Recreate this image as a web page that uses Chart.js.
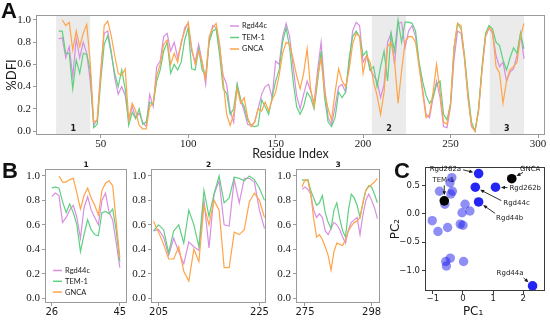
<!DOCTYPE html>
<html>
<head>
<meta charset="utf-8">
<title>DFI profiles and PCA</title>
<script src="https://cdn.jsdelivr.net/npm/chart.js@4.4.1/dist/chart.umd.min.js"></script>
<style>
  html, body { margin: 0; padding: 0; background: #fff; }
  #figure { position: relative; width: 550px; height: 326px; overflow: hidden; }
  #figure canvas { position: absolute; }
  .tag { position: absolute; font: bold 22px/22px "Liberation Sans", Arial, sans-serif; color: #111; }
</style>
</head>
<body>
<div id="figure">
  <canvas id="dfiA" width="550" height="162" style="left:0;top:0"></canvas>
  <canvas id="dfiB1" width="130" height="166" style="left:0;top:160px"></canvas>
  <canvas id="dfiB2" width="140" height="166" style="left:130px;top:160px"></canvas>
  <canvas id="dfiB3" width="114" height="166" style="left:270px;top:160px"></canvas>
  <canvas id="pca" width="165" height="166" style="left:385px;top:160px"></canvas>
  <div class="tag" style="left:1px;top:0">A</div>
  <div class="tag" style="left:2px;top:160px">B</div>
  <div class="tag" style="left:394px;top:160px">C</div>
</div>
<script>
(function () {
  // panel A: every second residue, from 26
  const residueStart = 26;
  const residueStep = 2;
  const dfiRgd44c = [
    0.83, 0.84, 0.66, 0.76, 0.49, 0.83, 0.66, 0.80, 0.70, 0.45,
    0.05, 0.10, 0.55, 0.88, 0.90, 0.72, 0.48, 0.33, 0.40, 0.32,
    0.10, 0.22, 0.12, 0.16, 0.08, 0.04, 0.33, 0.22, 0.58, 0.63,
    0.85, 0.88, 0.72, 0.80, 0.66, 0.78, 0.93, 0.97, 0.72, 0.62,
    0.78, 0.62, 0.42, 0.82, 0.95, 0.93, 0.75, 0.50, 0.42, 0.18,
    0.08, 0.42, 0.28, 0.18, 0.06, 0.05, 0.08, 0.20, 0.33, 0.40,
    0.42, 0.30, 0.63, 0.60, 0.85, 0.97, 0.85, 0.58, 0.32, 0.20,
    0.33, 0.45, 0.36, 0.25, 0.55, 0.80, 0.40, 0.12, 0.06, 0.22,
    0.40, 0.42, 0.35, 0.60, 0.90, 0.98, 0.95, 0.62, 0.68, 0.55,
    0.50, 0.45, 0.30, 0.42, 0.80, 0.88, 0.60, 0.97, 0.98, 0.75,
    0.90, 0.95, 0.85, 0.60, 0.38, 0.15, 0.12, 0.30, 0.45, 0.30,
    0.04, 0.03, 0.22, 0.65, 0.90, 0.88, 0.65, 0.30, 0.04, 0.00,
    0.18, 0.55, 0.85, 0.93, 0.88, 0.68, 0.58, 0.62, 0.45, 0.53,
    0.56, 0.68, 0.88, 0.65
  ];
  const dfiTem1 = [
    0.90, 0.90, 0.70, 0.70, 0.38, 0.64, 0.52, 0.70, 0.69, 0.55,
    0.03, 0.06, 0.45, 0.78, 0.86, 0.70, 0.52, 0.40, 0.55, 0.38,
    0.05, 0.17, 0.11, 0.20, 0.06, 0.08, 0.26, 0.24, 0.45, 0.55,
    0.72, 0.80, 0.52, 0.60, 0.55, 0.62, 0.82, 0.93, 0.56, 0.55,
    0.74, 0.55, 0.50, 0.80, 0.90, 0.92, 0.68, 0.38, 0.34, 0.15,
    0.20, 0.42, 0.28, 0.22, 0.10, 0.05, 0.04, 0.05, 0.28, 0.22,
    0.15, 0.30, 0.45, 0.55, 0.80, 0.93, 0.75, 0.45, 0.22, 0.15,
    0.22, 0.35, 0.30, 0.20, 0.45, 0.72, 0.30, 0.08, 0.04, 0.12,
    0.35, 0.30, 0.35, 0.65, 0.85, 0.90, 0.85, 0.68, 0.72, 0.55,
    0.58, 0.40, 0.58, 0.72, 0.45, 0.88, 0.72, 1.00, 0.80, 0.98,
    0.98, 0.97, 0.90, 0.62, 0.45, 0.32, 0.25, 0.30, 0.42, 0.45,
    0.15, 0.10, 0.25, 0.75, 0.97, 0.92, 0.68, 0.35, 0.08, 0.00,
    0.20, 0.58, 0.88, 0.95, 0.92, 0.80, 0.77, 0.64, 0.55, 0.66,
    0.75, 0.70, 0.88, 0.74
  ];
  const dfiGnca = [
    null, 1.00, 0.95, 0.98, 0.73, 0.90, 0.76, 0.88, 0.96, 0.62,
    0.08, 0.10, 0.50, 0.95, 0.99, 0.86, 0.68, 0.52, 0.50, 0.56,
    0.10, 0.25, 0.18, 0.05, 0.02, 0.02, 0.22, 0.25, 0.50, 0.60,
    0.78, 0.82, 0.60, 0.70, 0.62, 0.80, 0.90, 0.98, 0.75, 0.60,
    0.72, 0.62, 0.47, 0.85, 0.93, 0.97, 0.78, 0.45, 0.15, 0.05,
    0.15, 0.38, 0.25, 0.30, 0.12, 0.04, 0.08, 0.20, 0.18, 0.26,
    0.18, 0.28, 0.35, 0.50, 0.70, 0.80, 0.78, 0.65, 0.50, 0.38,
    0.52, 0.74, 0.38, 0.22, 0.50, 0.65, 0.35, 0.20, 0.10, 0.35,
    0.56, 0.45, 0.40, 0.55, 0.78, 0.88, 0.85, 0.52, 0.68, 0.62,
    0.44, 0.32, 0.15, 0.35, 0.76, 0.80, 0.62, 0.25, 0.54, 0.80,
    0.85, 0.85, 0.80, 0.58, 0.35, 0.12, 0.15, 0.35, 0.60, 0.35,
    0.08, 0.06, 0.25, 0.75, 0.97, 0.95, 0.65, 0.30, 0.05, 0.00,
    0.18, 0.55, 0.85, 0.93, 0.90, 0.58, 0.52, 0.25, 0.45, 0.55,
    0.58, 0.62, 0.85, 0.97
  ];
  const shadedSpans = [[24.5, 44], [205, 224.6], [272.4, 292]];
  const shadedNames = ["1", "2", "3"];
  const aXTicks = [50, 100, 150, 200, 250, 300];
  const dfiTicks = [0, 0.2, 0.4, 0.6, 0.8, 1.0];

  // panel B: the three shaded stretches, one point per residue
  const b1Start = 26;
  const b1Rgd44c = [0.83, 0.86, 0.84, 0.62, 0.66, 0.72, 0.76, 0.66, 0.49, 0.74, 0.83, 0.72, 0.66, 0.60, 0.80, 0.86, 0.70, 0.64, 0.45, 0.25];
  const b1Tem1 = [0.90, 0.91, 0.90, 0.79, 0.70, 0.77, 0.70, 0.60, 0.38, 0.52, 0.64, 0.56, 0.52, 0.51, 0.70, 0.71, 0.69, 0.73, 0.55, 0.30];
  const b1Gnca = [null, null, 1.00, 0.95, 0.95, 0.97, 0.98, 0.86, 0.73, 0.84, 0.90, 0.82, 0.76, 0.68, 0.88, 0.94, 0.96, 0.92, 0.62, 0.33];
  const b1XTicks = [26, 45];

  const b2Start = 204;
  const b2Rgd44c = [0.55, 0.56, 0.50, 0.35, 0.49, 0.38, 0.28, 0.46, 0.42, 0.39, 0.80, 0.41, 0.85, 0.96, 0.60, 0.59, 0.97, 0.78, 0.98, 0.98, 0.95, 0.72, 0.57];
  const b2Tem1 = [0.55, 0.60, 0.56, 0.37, 0.55, 0.60, 0.45, 0.72, 0.60, 0.42, 0.88, 0.67, 0.85, 1.00, 0.78, 0.82, 0.99, 0.98, 0.96, 1.00, 0.97, 0.90, 0.80];
  const b2Gnca = [0.63, 0.54, 0.44, 0.32, 0.32, 0.42, 0.22, 0.14, 0.40, 0.30, 0.76, 0.60, 0.80, 0.72, 0.25, 0.25, 0.54, 0.52, 0.56, 0.79, 0.86, 0.80, 0.66];
  const b2XTicks = [205, 225];

  const b3Start = 274;
  const b3Rgd44c = [0.89, 0.91, 0.89, 0.85, 0.72, 0.66, 0.69, 0.66, 0.55, 0.52, 0.57, 0.62, 0.60, 0.56, 0.50, 0.45, 0.56, 0.62, 0.64, 0.66, 0.52, 0.68, 0.80, 0.85, 0.80, 0.74, 0.65];
  const b3Tem1 = [0.97, 0.96, 0.97, 0.88, 0.82, 0.76, 0.78, 0.84, 0.70, 0.62, 0.57, 0.72, 0.78, 0.65, 0.55, 0.50, 0.72, 0.85, 0.82, 0.76, 0.66, 0.78, 0.88, 0.92, 0.91, 0.85, 0.78];
  const b3Gnca = [0.91, 0.97, 0.96, 0.85, 0.65, 0.50, 0.52, 0.48, 0.42, 0.35, 0.23, 0.38, 0.45, 0.44, 0.43, 0.48, 0.55, 0.59, 0.62, 0.63, 0.66, 0.78, 0.88, 0.91, 0.93, 0.95, 0.98];
  const b3XTicks = [275, 298];

  // panel C: PCA of the DFI profiles
  const pcOtherX = [-0.37, -0.43, -0.78, -0.40, -0.35, -0.60, 0.07, -0.03, 0.23, -0.09, 0.00, -1.02, -0.83, -0.51, -0.57, -0.55, -0.42, 0.02];
  const pcOtherY = [0.64, 0.55, 0.40, 0.35, 0.40, 0.17, 0.17, 0.02, 0.05, -0.18, -0.20, -0.12, -0.31, -0.24, -0.84, -0.92, -0.78, -0.84];
  const pcNamedLabels = ["Rgd262a", "Rgd262b", "Rgd44c", "Rgd44b", "Rgd44a"];
  const pcNamedX = [0.52, 1.08, 0.41, 0.52, 2.31];
  const pcNamedY = [0.71, 0.47, 0.47, 0.21, -1.27];
  const pcRefLabels = ["TEM-1", "GNCA"];
  const pcRefX = [-0.62, 1.62];
  const pcRefY = [0.23, 0.62];
  const pcXTicks = [-1, 0, 1, 2];
  const pcYTicks = [-1, -0.5, 0, 0.5];

  const seriesNames = ["Rgd44c", "TEM-1", "GNCA"];
  const seriesColors = ["#d98fe1", "#5ed07f", "#ffa448"];
  const ink = "#1a1a1a";
  const frameGray = "#9a9a9a";
  const serifTick = { family: "'Liberation Serif', 'DejaVu Serif', serif", size: 11 };
  const sansTick = { family: "'DejaVu Sans', sans-serif", size: 10 };
  const labelFont = "Lato, 'Open Sans', sans-serif";

  const boxFrame = {
    id: "boxFrame",
    afterDatasetsDraw(chart, args, opts) {
      const { ctx, chartArea: a } = chart;
      ctx.save();
      ctx.strokeStyle = opts.color;
      ctx.lineWidth = 1;
      ctx.strokeRect(Math.round(a.left) + 0.5, Math.round(a.top) + 0.5, Math.round(a.width) - 1, Math.round(a.height) - 1);
      ctx.restore();
    },
  };

  const regionShade = {
    id: "regionShade",
    beforeDatasetsDraw(chart, args, opts) {
      const { ctx, chartArea: a, scales } = chart;
      ctx.save();
      opts.spans.forEach((span, i) => {
        const x0 = scales.x.getPixelForValue(span[0]);
        const x1 = scales.x.getPixelForValue(span[1]);
        ctx.fillStyle = "#ebebeb";
        ctx.fillRect(x0, a.top, x1 - x0, a.height);
        ctx.fillStyle = ink;
        ctx.font = "bold 8px 'DejaVu Sans', sans-serif";
        ctx.textAlign = "center";
        ctx.textBaseline = "middle";
        ctx.fillText(opts.names[i], (x0 + x1) / 2, a.bottom - 6);
      });
      ctx.restore();
    },
  };

  const inlineLegend = {
    id: "inlineLegend",
    afterDatasetsDraw(chart, args, opts) {
      if (!opts.show) return;
      const { ctx } = chart;
      ctx.save();
      ctx.font = "7.5px " + labelFont;
      ctx.textBaseline = "middle";
      ctx.textAlign = "left";
      chart.data.datasets.forEach((ds, i) => {
        const y = opts.y + i * opts.rowGap;
        ctx.strokeStyle = ds.borderColor;
        ctx.lineWidth = 1.5;
        ctx.beginPath();
        ctx.moveTo(opts.x, y);
        ctx.lineTo(opts.x + 9, y);
        ctx.stroke();
        ctx.fillStyle = ink;
        ctx.fillText(ds.label, opts.x + 12, y);
      });
      ctx.restore();
    },
  };

  const subplotTitle = {
    id: "subplotTitle",
    afterDraw(chart, args, opts) {
      if (!opts.text) return;
      const { ctx, chartArea: a } = chart;
      ctx.save();
      ctx.font = "bold 7.5px 'DejaVu Sans', sans-serif";
      ctx.fillStyle = ink;
      ctx.textAlign = "center";
      ctx.textBaseline = "middle";
      ctx.fillText(opts.text, (a.left + a.right) / 2, a.top - 4);
      ctx.restore();
    },
  };

  function profileDatasets(rows, start, step) {
    return rows.map((values, k) => ({
      label: seriesNames[k],
      data: values.map((v, i) => ({ x: start + i * step, y: v })),
      borderColor: seriesColors[k],
      borderWidth: 1.2,
      pointRadius: 0,
      tension: 0,
      order: rows.length - k,
    }));
  }

  function dfiChart(id, rows, start, step, o) {
    return new Chart(document.getElementById(id), {
      type: "line",
      data: { datasets: profileDatasets(rows, start, step) },
      plugins: [regionShade, boxFrame, inlineLegend, subplotTitle],
      options: {
        responsive: false,
        animation: false,
        events: [],
        layout: { padding: o.padding },
        plugins: {
          legend: { display: false },
          tooltip: { enabled: false },
          boxFrame: { color: frameGray },
          regionShade: { spans: o.spans || [], names: shadedNames },
          inlineLegend: o.legend || { show: false },
          subplotTitle: { text: o.title || "" },
        },
        scales: {
          x: {
            type: "linear",
            min: o.xMin,
            max: o.xMax,
            afterBuildTicks: (s) => { s.ticks = o.xTicks.map((v) => ({ value: v })); },
            afterFit: (s) => { s.height = o.xHeight; },
            grid: { drawOnChartArea: false, tickLength: 3, color: frameGray },
            border: { display: false },
            ticks: { font: o.xFont, color: ink, padding: 0, maxRotation: 0, autoSkip: false, callback: (v) => String(v) },
            title: o.xTitle
              ? { display: true, text: o.xTitle, color: ink, font: { family: labelFont, size: 12.5 }, padding: { top: 0, bottom: 1 } }
              : { display: false },
          },
          y: {
            min: o.yMin,
            max: o.yMax,
            afterBuildTicks: (s) => { s.ticks = dfiTicks.map((v) => ({ value: v })); },
            afterFit: (s) => { s.width = o.yWidth; },
            grid: { drawOnChartArea: false, tickLength: 3, color: frameGray },
            border: { display: false },
            ticks: { font: serifTick, color: ink, padding: 2, callback: (v) => v.toFixed(1) },
            title: o.yTitle
              ? { display: true, text: o.yTitle, color: ink, font: { family: labelFont, size: 13 }, padding: { top: 4, bottom: 0 } }
              : { display: false },
          },
        },
      },
    });
  }

  dfiChart("dfiA", [dfiRgd44c, dfiTem1, dfiGnca], residueStart, residueStep, {
    padding: { left: 0, right: 5, top: 15, bottom: 0 },
    xMin: 13, xMax: 304, xTicks: aXTicks, xHeight: 27, xFont: serifTick, xTitle: "Residue Index",
    yMin: -0.036, yMax: 1.045, yWidth: 36, yTitle: "%DFI",
    spans: shadedSpans,
    legend: { show: true, x: 230, y: 26, rowGap: 11.5 },
  });

  const bBase = { xHeight: 23, xFont: sansTick, yMin: -0.04, yMax: 1.06 };
  dfiChart("dfiB1", [b1Rgd44c, b1Tem1, b1Gnca], b1Start, 1, Object.assign({}, bBase, {
    padding: { left: 0, right: 3, top: 8, bottom: 0 },
    xMin: 24.1, xMax: 47, xTicks: b1XTicks, yWidth: 45, title: "1",
    legend: { show: true, x: 53, y: 110.5, rowGap: 10.8 },
  }));
  dfiChart("dfiB2", [b2Rgd44c, b2Tem1, b2Gnca], b2Start, 1, Object.assign({}, bBase, {
    padding: { left: 0, right: 4, top: 8, bottom: 0 },
    xMin: 203.5, xMax: 226.3, xTicks: b2XTicks, yWidth: 21, title: "2",
  }));
  dfiChart("dfiB3", [b3Rgd44c, b3Tem1, b3Gnca], b3Start, 1, Object.assign({}, bBase, {
    padding: { left: 0, right: 4, top: 8, bottom: 0 },
    xMin: 271.9, xMax: 300.9, xTicks: b3XTicks, yWidth: 26, title: "3",
  }));

  // arrows and names next to the highlighted PCA points
  const pointNotes = {
    id: "pointNotes",
    afterDatasetsDraw(chart, args, opts) {
      const { ctx } = chart;
      ctx.save();
      ctx.font = "7px 'DejaVu Sans', sans-serif";
      ctx.fillStyle = ink;
      ctx.strokeStyle = ink;
      ctx.lineWidth = 0.9;
      ctx.textBaseline = "middle";
      opts.notes.forEach((n) => {
        const ds = chart.data.datasets[n.set];
        const el = chart.getDatasetMeta(n.set).data[n.index];
        ctx.textAlign = n.align;
        ctx.fillText(ds.pointNames[n.index], el.x + n.tx, el.y + n.ty);
        const sx = el.x + n.ax;
        const sy = el.y + n.ay;
        const dx = el.x - sx;
        const dy = el.y - sy;
        const len = Math.hypot(dx, dy);
        const ux = dx / len;
        const uy = dy / len;
        const ex = el.x - ux * 5.5;
        const ey = el.y - uy * 5.5;
        ctx.beginPath();
        ctx.moveTo(sx, sy);
        ctx.lineTo(ex - ux * 2, ey - uy * 2);
        ctx.stroke();
        ctx.beginPath();
        ctx.moveTo(ex, ey);
        ctx.lineTo(ex - ux * 4 - uy * 1.8, ey - uy * 4 + ux * 1.8);
        ctx.lineTo(ex - ux * 4 + uy * 1.8, ey - uy * 4 - ux * 1.8);
        ctx.closePath();
        ctx.fill();
      });
      ctx.restore();
    },
  };

  // the PC1 caption sits a little left of the axis centre in the original
  const xCaption = {
    id: "xCaption",
    afterDraw(chart, args, opts) {
      const { ctx, chartArea: a } = chart;
      ctx.save();
      ctx.font = "12px 'DejaVu Sans', sans-serif";
      ctx.fillStyle = ink;
      ctx.textAlign = "center";
      ctx.textBaseline = "middle";
      ctx.fillText(opts.text, (a.left + a.right) / 2 + opts.shift, chart.height - opts.lift);
      ctx.restore();
    },
  };

  const signed = (v, digits) => (v < 0 ? "\u2212" : "") + Math.abs(v).toFixed(digits);
  const pairs = (xs, ys) => xs.map((x, i) => ({ x, y: ys[i] }));

  new Chart(document.getElementById("pca"), {
    type: "scatter",
    data: {
      datasets: [
        { data: pairs(pcOtherX, pcOtherY), backgroundColor: "rgba(30,30,235,0.5)", borderWidth: 0, pointRadius: 4.7, order: 3 },
        { data: pairs(pcNamedX, pcNamedY), pointNames: pcNamedLabels, backgroundColor: "rgba(25,25,242,0.95)", borderWidth: 0, pointRadius: 4.8, order: 2 },
        { data: pairs(pcRefX, pcRefY), pointNames: pcRefLabels, backgroundColor: "#000", borderWidth: 0, pointRadius: 4.8, order: 1 },
      ],
    },
    plugins: [boxFrame, pointNotes, xCaption],
    options: {
      responsive: false,
      animation: false,
      events: [],
      layout: { padding: { left: 0, right: 1, top: 5, bottom: 0 } },
      plugins: {
        legend: { display: false },
        tooltip: { enabled: false },
        boxFrame: { color: "#3a3a3a" },
        xCaption: { text: "PC\u2081", shift: -12, lift: 14 },
        pointNotes: {
          notes: [
            { set: 1, index: 0, tx: -17.5, ty: -4.8, align: "right", ax: -15.5, ay: -3.8 },
            { set: 2, index: 0, tx: -1, ty: -20.5, align: "center", ax: 0, ay: -15.5 },
            { set: 2, index: 1, tx: 8.3, ty: -10, align: "left", ax: 11.3, ay: -6.3 },
            { set: 1, index: 1, tx: 14, ty: 1.4, align: "left", ax: 12, ay: 0.4 },
            { set: 1, index: 2, tx: 28, ty: 16, align: "left", ax: 26, ay: 13.4 },
            { set: 1, index: 3, tx: 17.5, ty: 16, align: "left", ax: 16.5, ay: 11.4 },
            { set: 1, index: 4, tx: -9, ty: -13, align: "right", ax: -9, ay: -8 },
          ],
        },
      },
      scales: {
        x: {
          type: "linear",
          min: -1.26,
          max: 2.73,
          afterBuildTicks: (s) => { s.ticks = pcXTicks.map((v) => ({ value: v })); },
          afterFit: (s) => { s.height = 35; },
          grid: { drawOnChartArea: false, tickLength: 3, color: "#3a3a3a" },
          border: { display: false },
          ticks: { font: { family: "'DejaVu Sans', sans-serif", size: 8.5 }, color: ink, padding: 0, maxRotation: 0, callback: (v) => signed(v, 0) },
          title: { display: false },
        },
        y: {
          min: -1.36,
          max: 0.825,
          afterBuildTicks: (s) => { s.ticks = pcYTicks.map((v) => ({ value: v })); },
          afterFit: (s) => { s.width = 40; },
          grid: { drawOnChartArea: false, tickLength: 3, color: "#3a3a3a" },
          border: { display: false },
          ticks: { font: { family: "'DejaVu Sans', sans-serif", size: 8.5 }, color: ink, padding: 2, callback: (v) => signed(v, 1) },
          title: { display: true, text: "PC\u2082", color: ink, font: { family: "'DejaVu Sans', sans-serif", size: 12 }, padding: { top: 4, bottom: 0 } },
        },
      },
    },
  });
})();
</script>
</body>
</html>
